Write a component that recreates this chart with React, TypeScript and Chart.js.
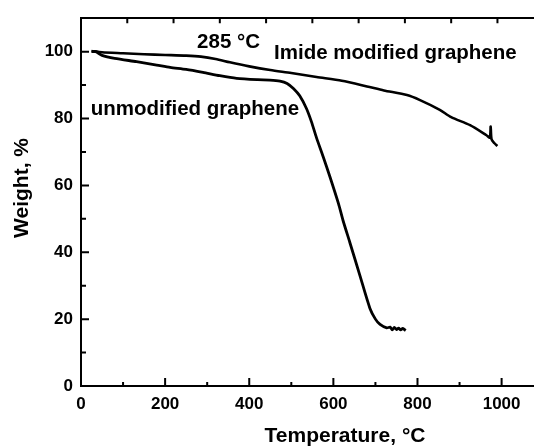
import React, { useEffect, useRef } from "react";
import { Chart, registerables } from "chart.js";

Chart.register(...registerables);

// Imide modified graphene (temperature °C, weight %)
const imideTemp = [25, 50, 100, 150, 200, 250, 285, 320, 354, 400, 450, 500, 560, 620, 680, 720, 775, 806, 853, 880, 925, 964, 972, 974, 976, 983, 990];
const imideWeight = [100.2, 99.8, 99.5, 99.2, 99.0, 98.8, 98.5, 97.8, 96.8, 95.6, 94.5, 93.6, 92.4, 91.3, 89.6, 88.4, 87.0, 85.5, 82.6, 80.4, 78.0, 75.0, 74.3, 77.6, 73.8, 72.6, 71.8];

// Unmodified graphene
const unmodTemp = [25, 35, 50, 80, 132, 180, 212, 250, 290, 330, 370, 420, 449, 473, 490, 505, 520, 536, 548, 560, 576, 592, 612, 623, 639, 663, 687, 700, 711, 727, 735, 740, 745, 750, 755, 760, 765, 772];
const unmodWeight = [100, 100, 98.9, 98.0, 97.0, 96.0, 95.3, 94.7, 93.8, 92.8, 92.0, 91.6, 91.5, 91.2, 90.5, 89.0, 86.8, 83.0, 79.0, 74.2, 68.5, 62.5, 54.6, 49.5, 43.0, 33.1, 23.2, 20.0, 18.4, 17.4, 17.6, 16.8, 17.5, 16.9, 17.3, 16.8, 17.2, 16.6];

const xTicks = [0, 200, 400, 600, 800, 1000];
const xMinorTicks = [100, 300, 500, 700, 900];
const yTicks = [0, 20, 40, 60, 80, 100];
const yMinorTicks = [10, 30, 50, 70, 90];
const topTicks = [100, 200, 300, 400, 500, 600, 700, 800, 900];

const xTitle = "Temperature, °C";
const yTitle = "Weight, %";

const notes = [
  { text: "285 °C", t: 276, w: 101.1 },
  { text: "Imide modified graphene", t: 459, w: 97.7 },
  { text: "unmodified graphene", t: 23, w: 81.1 },
];

const FONT = '"Liberation Sans", Arial, sans-serif';

export default function App() {
  const ref = useRef<HTMLCanvasElement | null>(null);

  useEffect(() => {
    document.body.style.margin = "0";
    const canvas = ref.current;
    if (!canvas) return;

    const decor = {
      id: "decor",
      afterDraw(chart: any) {
        const ctx = chart.ctx;
        const xs = chart.scales.x;
        const ys = chart.scales.y;
        const x2 = chart.scales.x2;
        const area = chart.chartArea;
        ctx.save();
        ctx.strokeStyle = "#000";
        ctx.lineWidth = 2;
        ctx.beginPath();
        xTicks.forEach((v) => {
          const p = xs.getPixelForValue(v);
          if (v === 0) return;
          ctx.moveTo(p, area.bottom);
          ctx.lineTo(p, area.bottom - 8);
        });
        xMinorTicks.forEach((v) => {
          const p = xs.getPixelForValue(v);
          ctx.moveTo(p, area.bottom);
          ctx.lineTo(p, area.bottom - 4);
        });
        yTicks.forEach((v) => {
          if (v === 0) return;
          const p = ys.getPixelForValue(v);
          ctx.moveTo(area.left, p);
          ctx.lineTo(area.left + 8, p);
        });
        yMinorTicks.forEach((v) => {
          const p = ys.getPixelForValue(v);
          ctx.moveTo(area.left, p);
          ctx.lineTo(area.left + 5, p);
        });
        topTicks.forEach((v) => {
          const p = x2.getPixelForValue(v);
          ctx.moveTo(p, area.top);
          ctx.lineTo(p, area.top + 5);
        });
        ctx.stroke();

        ctx.fillStyle = "#000";
        ctx.font = "bold 20.5px " + FONT;
        ctx.textBaseline = "alphabetic";
        notes.forEach((n) => {
          ctx.textAlign = "left";
          ctx.fillText(n.text, xs.getPixelForValue(n.t), ys.getPixelForValue(n.w));
        });

        ctx.font = "bold 21px " + FONT;
        ctx.textAlign = "center";
        ctx.fillText(xTitle, 345, 442);
        ctx.translate(28, 188);
        ctx.rotate(-Math.PI / 2);
        ctx.fillText(yTitle, 0, 0);
        ctx.restore();
      },
    };

    const chart = new Chart(canvas, {
      type: "line",
      data: {
        datasets: [
          {
            label: "Imide modified graphene",
            data: imideTemp.map((t, i) => ({ x: t, y: imideWeight[i] })),
            borderColor: "#000",
            borderWidth: 2.6,
            pointRadius: 0,
            tension: 0.25,
            fill: false,
          },
          {
            label: "unmodified graphene",
            data: unmodTemp.map((t, i) => ({ x: t, y: unmodWeight[i] })),
            borderColor: "#000",
            borderWidth: 2.8,
            pointRadius: 0,
            tension: 0.25,
            fill: false,
          },
        ],
      },
      options: {
        animation: false,
        responsive: false,
        maintainAspectRatio: false,
        layout: { padding: { top: 12, right: 0, left: 0, bottom: 0 } },
        plugins: { legend: { display: false }, tooltip: { enabled: false }, title: { display: false } },
        scales: {
          x: {
            type: "linear",
            position: "bottom",
            min: 0,
            max: 1077,
            afterBuildTicks: (s: any) => {
              s.ticks = xTicks.map((v) => ({ value: v }));
            },
            afterFit: (s: any) => {
              s.height = 61;
            },
            grid: { display: false, drawTicks: false },
            border: { display: true, color: "#000", width: 2 },
            ticks: {
              color: "#000",
              padding: 8,
              maxRotation: 0,
              autoSkip: false,
              callback: (v: any) => String(v),
              font: { family: FONT, size: 17, weight: "bold" },
            },
          },
          x2: {
            type: "linear",
            position: "top",
            min: 0,
            max: 979,
            afterFit: (s: any) => {
              s.height = 0;
            },
            grid: { display: false, drawTicks: false },
            border: { display: true, color: "#000", width: 2 },
            ticks: { display: false },
          },
          y: {
            type: "linear",
            position: "left",
            min: 0,
            max: 110,
            afterBuildTicks: (s: any) => {
              s.ticks = yTicks.map((v) => ({ value: v }));
            },
            afterFit: (s: any) => {
              s.width = 81;
            },
            grid: { display: false, drawTicks: false },
            border: { display: true, color: "#000", width: 2 },
            ticks: {
              color: "#000",
              padding: 8,
              autoSkip: false,
              callback: (v: any) => String(v),
              font: { family: FONT, size: 17, weight: "bold" },
            },
          },
        },
      },
      plugins: [decor],
    } as any);

    return () => chart.destroy();
  }, []);

  return (
    <div style={{ width: 534, height: 447, background: "#fff" }}>
      <canvas ref={ref} width={534} height={447} style={{ display: "block" }} />
    </div>
  );
}
